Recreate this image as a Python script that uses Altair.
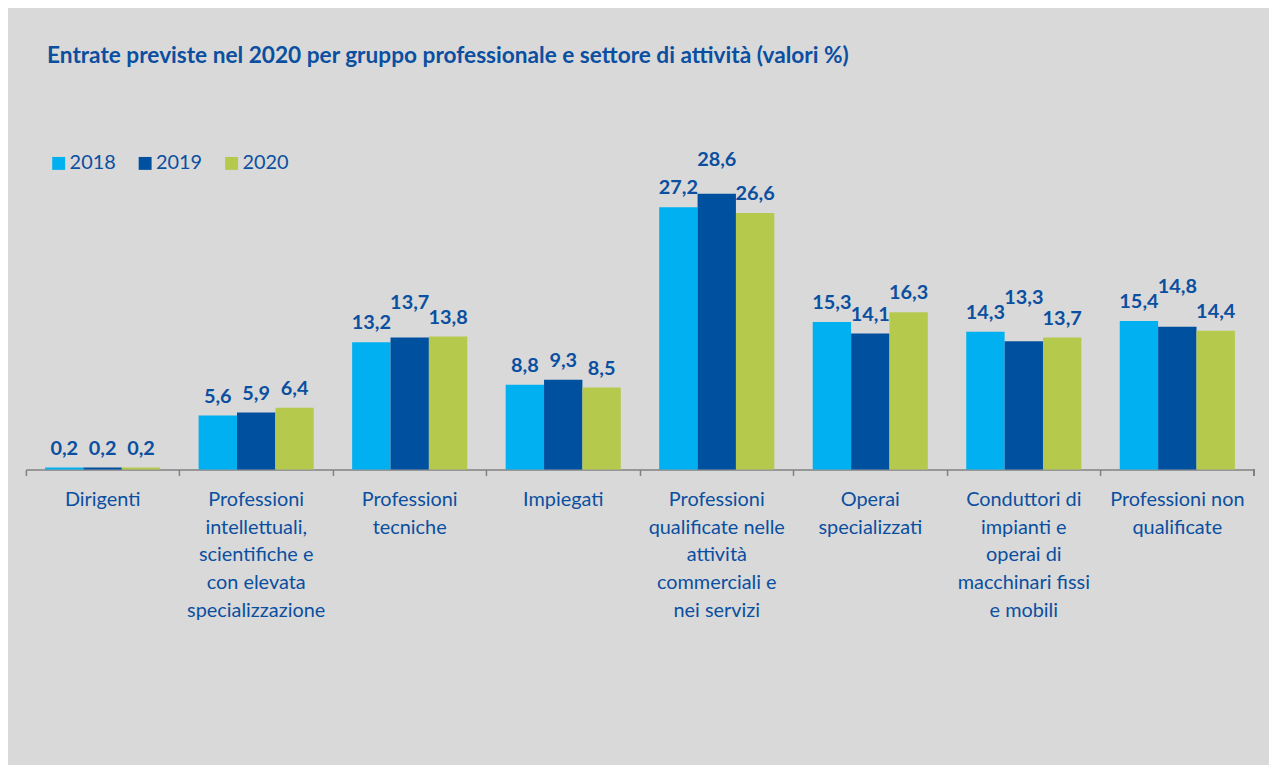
import altair as alt
import pandas as pd

categories = [
    "Dirigenti",
    "Professioni\nintellettuali,\nscientifiche e\ncon elevata\nspecializzazione",
    "Professioni\ntecniche",
    "Impiegati",
    "Professioni\nqualificate nelle\nattività\ncommerciali e\nnei servizi",
    "Operai\nspecializzati",
    "Conduttori di\nimpianti e\noperai di\nmacchinari fissi\ne mobili",
    "Professioni non\nqualificate",
]
years = ["2018", "2019", "2020"]
v2018 = [0.2, 5.6, 13.2, 8.8, 27.2, 15.3, 14.3, 15.4]
v2019 = [0.2, 5.9, 13.7, 9.3, 28.6, 14.1, 13.3, 14.8]
v2020 = [0.2, 6.4, 13.8, 8.5, 26.6, 16.3, 13.7, 14.4]
colors = ["#00b0f0", "#0050a0", "#b5c94d"]
title_text = "Entrate previste nel 2020 per gruppo professionale e settore di attività (valori %)"

rows = []
for yr, vals in zip(years, [v2018, v2019, v2020]):
    for c, v in zip(categories, vals):
        rows.append({"cat": c, "year": yr, "value": v})
df = pd.DataFrame(rows)

TXT = "#0b4fa0"
FONT = "Lato"
W, H = 1236, 291

x_enc = alt.X(
    "cat:N",
    sort=categories,
    title=None,
    scale=alt.Scale(paddingInner=0, paddingOuter=0),
    axis=alt.Axis(
        labelAngle=0,
        bandPosition=0,
        labelExpr="split(datum.label, '\\n')",
        labelFont=FONT,
        labelFontSize=20,
        labelColor=TXT,
        labelLineHeight=28,
        labelPadding=14,
        labelLimit=400,
        labelOverlap=False,
        domainColor="#808080",
        domainWidth=1.5,
        tickColor="#808080",
        tickWidth=1.5,
        tickSize=6,
        grid=False,
    ),
)
xoff = alt.XOffset("year:N", sort=years, scale=alt.Scale(paddingInner=0, paddingOuter=0.5))
y_scale = alt.Scale(domain=[0, 30], nice=False)

bars = alt.Chart(df).mark_bar(size=38.6).encode(
    x=x_enc,
    xOffset=xoff,
    y=alt.Y("value:Q", scale=y_scale, axis=None),
    color=alt.Color(
        "year:N",
        sort=years,
        scale=alt.Scale(domain=years, range=colors),
        legend=alt.Legend(
            title=None,
            orient="none",
            direction="horizontal",
            legendX=23,
            legendY=-27,
            symbolType="square",
            symbolSize=169,
            symbolStrokeWidth=0,
            labelFont=FONT,
            labelFontSize=20,
            labelColor=TXT,
            labelOffset=1,
            columnPadding=19,
            padding=0,
        ),
    ),
)

# middle-series labels of the wider (two-digit) groups are lifted above the
# group's tallest bar when they sit close to it, to avoid crowding
labels = alt.Chart(df).transform_joinaggregate(
    gmax="max(value)", groupby=["cat"]
).transform_calculate(
    lab="replace(format(datum.value, '.1f'), '.', ',')",
    ypos="datum.year == '2019' && datum.value >= 10 && datum.gmax - datum.value < 2 ? datum.gmax + 1.55 : datum.value",
).mark_text(
    font=FONT, fontSize=20, fontWeight="bold", color=TXT, baseline="alphabetic", dy=-13
).encode(
    x=x_enc,
    xOffset=xoff,
    y=alt.Y("ypos:Q", scale=y_scale, axis=None),
    text="lab:N",
)

end_tick = alt.Chart(df).mark_rule(color="#808080", strokeWidth=1.5).encode(
    x=alt.value(W), y=alt.value(H), y2=alt.value(H + 6)
)

chart = alt.layer(bars, labels, end_tick).properties(
    width=W,
    height=H,
    title=alt.Title(
        title_text,
        anchor="start",
        dx=22,
        offset=83,
        font=FONT,
        fontSize=22.8,
        fontWeight="bold",
        color=TXT,
    ),
).configure(
    background="#d9d9d9",
    autosize=alt.AutoSizeParams(type="none"),
    padding={"left": 18, "top": 171, "right": 15, "bottom": 295},
).configure_view(stroke=None)

chart.save("out.html", embed_options={"renderer": "svg", "actions": False})
